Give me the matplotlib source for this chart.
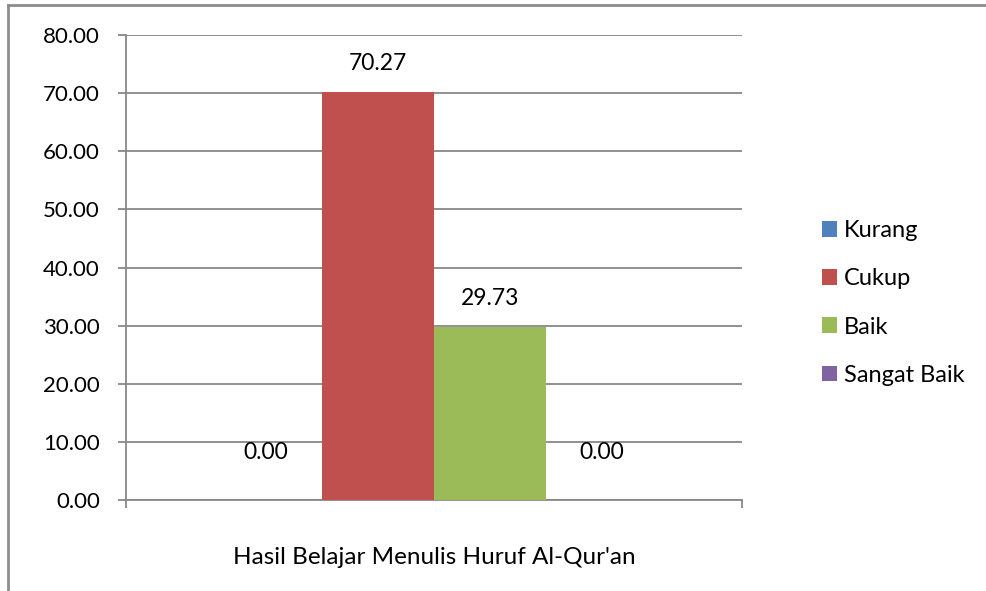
import matplotlib
matplotlib.use("Agg")
import matplotlib.pyplot as plt
from matplotlib.lines import Line2D
from matplotlib.patches import Patch

categories = ["Hasil Belajar Menulis Huruf Al-Qur'an"]
series = ["Kurang", "Cukup", "Baik", "Sangat Baik"]
values = [0.00, 70.27, 29.73, 0.00]
colors = ["#4F81BD", "#C0504D", "#9BBB59", "#8064A2"]
yticks = [0, 10, 20, 30, 40, 50, 60, 70, 80]

plt.rcParams['font.family'] = ['Lato', 'DejaVu Sans']
W, H = 986, 591
fig = plt.figure(figsize=(W / 100, H / 100), dpi=100)

def fx(px):
    return px / W

def fy(py):
    return 1 - py / H

ax = fig.add_axes([fx(126), fy(500), fx(742) - fx(126), fy(35) - fy(500)])
grid_c = "#888888"
fs = 16

n = len(series)
bw = 1 / (n + 1.5)
for i, (s, v, c) in enumerate(zip(series, values, colors)):
    x = (i - (n - 1) / 2) * bw
    ax.bar(x, v, width=bw, color=c, zorder=3)
    ax.text(x, max(v + 4.9, 8.1), f"{v:.2f}", ha="center", va="center", fontsize=16.5, zorder=4)

ax.set_xlim(-0.5, 0.5)
ax.set_ylim(0, 80)
ax.set_yticks(yticks)
ax.set_yticklabels([f"{t:.2f}" for t in yticks], fontsize=fs)
ax.yaxis.grid(True, color=grid_c, linewidth=1.3, zorder=0)
ax.set_xticks([-0.5, 0.5])
ax.set_xticklabels(["", ""])
ax.tick_params(axis="both", length=5.8, width=1.3, color=grid_c, direction="out")
ax.tick_params(axis="y", pad=13)
for side in ["top", "right"]:
    ax.spines[side].set_visible(False)
for side in ["left", "bottom"]:
    ax.spines[side].set_color(grid_c)
    ax.spines[side].set_linewidth(1.3)
ax.text(0, -0.123, categories[0], transform=ax.get_xaxis_transform(), ha="center", va="center", fontsize=17.5)

# chart border (left and top)
fig.add_artist(Line2D([fx(8), fx(8)], [fy(5), 0], color="#8c8c8c", linewidth=2))
fig.add_artist(Line2D([fx(8), 1], [fy(5), fy(5)], color="#8c8c8c", linewidth=2))

handles = [Patch(facecolor=c, label=s) for s, c in zip(series, colors)]
fig.legend(handles=handles, loc="center left", bbox_to_anchor=(fx(810), fy(303)),
           frameon=False, fontsize=17, handlelength=0.65, handleheight=0.65,
           handletextpad=0.3, labelspacing=1.15, borderpad=0)

fig.savefig("out.png", dpi=100)
